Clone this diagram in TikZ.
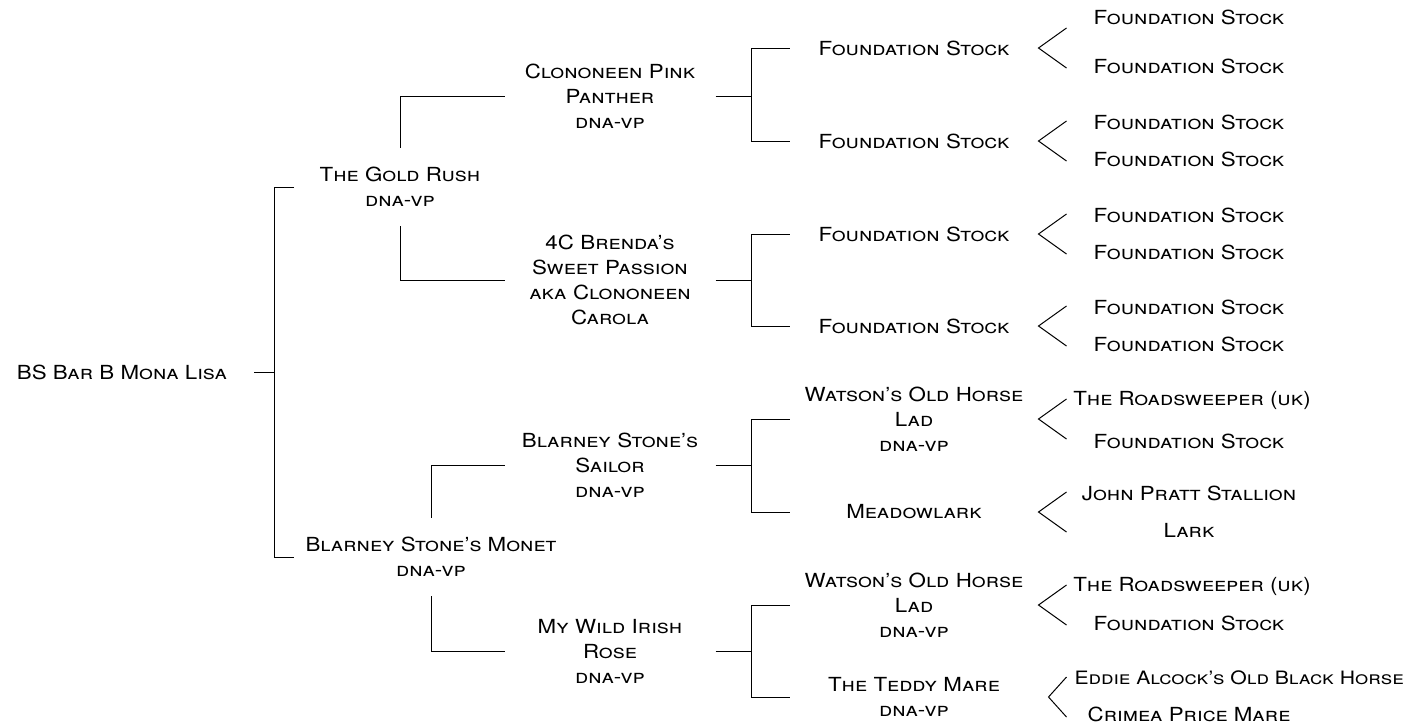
\documentclass[tikz,border=0pt]{standalone}
\usepackage{fontspec}
\setmainfont{TeX Gyre Heros}[FakeStretch=1.15]
\usetikzlibrary{positioning}

\newcommand{\chevron}[2][0pt]{%
  \draw ([shift={(14pt,10pt)}]#2.east) -- ([xshift=#1]#2.east) -- ([shift={(14pt,-10pt)}]#2.east);}

\begin{document}
\begin{tikzpicture}[x=0.5pt, y=-0.5pt, line width=0.5pt,
    every node/.style={font=\fontsize{9.7}{12.5}\selectfont\scshape, align=center},
    gen one/.style={inner ysep=9.5pt},
    gen two/.style={text width=100pt, inner xsep=2.5pt},
    gen three/.style={text width=120pt, inner xsep=2pt},
    gen four/.style={inner sep=1pt}]
  \useasboundingbox (0,0) rectangle (1412,725);

  % horse and parents
  \node (root) at (122,372) {BS Bar B Mona Lisa};
  \node[gen one] (gr) at (400,187) {The Gold Rush\\dna-vp};
  \node[gen one] (bsm) at (431,557) {Blarney Stone's Monet\\dna-vp};

  % grandparents
  \node[gen two] (cpp) at (610,96) {Clononeen Pink\\Panther\\dna-vp};
  \node[gen two] (cb) at (610,280) {4C Brenda's\\Sweet Passion\\aka Clononeen\\Carola};
  \node[gen two] (bss) at (610,465) {Blarney Stone's\\Sailor\\dna-vp};
  \node[gen two] (mwr) at (610,651) {My Wild Irish\\Rose\\dna-vp};

  % great grandparents
  \node[gen three] (fs1) at (914,48) {Foundation Stock};
  \node[gen three] (fs2) at (914,141) {Foundation Stock};
  \node[gen three] (fs3) at (914,234) {Foundation Stock};
  \node[gen three] (fs4) at (914,326) {Foundation Stock};
  \node[gen three] (wol1) at (914,419) {Watson's Old Horse\\Lad\\dna-vp};
  \node[gen three] (mea) at (914,512) {Meadowlark};
  \node[gen three] (wol2) at (914,605) {Watson's Old Horse\\Lad\\dna-vp};
  \node[gen three] (tm) at (914,697) {The Teddy Mare\\dna-vp};

  % last generation
  \node[gen four] (a1) at (1189,17) {Foundation Stock};
  \node[gen four] (a2) at (1189,66) {Foundation Stock};
  \node[gen four] (b1) at (1189,122) {Foundation Stock};
  \node[gen four] (b2) at (1189,159) {Foundation Stock};
  \node[gen four] (c1) at (1189,215) {Foundation Stock};
  \node[gen four] (c2) at (1189,252) {Foundation Stock};
  \node[gen four] (d1) at (1189,307) {Foundation Stock};
  \node[gen four] (d2) at (1189,344) {Foundation Stock};
  \node[gen four] (e1) at (1192,400) {The Roadsweeper (uk)};
  \node[gen four] (e2) at (1189,441) {Foundation Stock};
  \node[gen four] (f1) at (1189,493) {John Pratt Stallion};
  \node[gen four] (f2) at (1189,530) {Lark};
  \node[gen four] (g1) at (1192,586) {The Roadsweeper (uk)};
  \node[gen four] (g2) at (1189,623) {Foundation Stock};
  \node[gen four, anchor=west, font=\fontsize{9.2}{12.5}\selectfont\scshape] (h1) at (1072,678) {Eddie Alcock's Old Black Horse};
  \node[gen four] (h2) at (1189,714) {Crimea Price Mare};

  % brackets
  \draw ([xshift=10pt]root.east) -- ++(10pt,0) coordinate (r0);
  \draw (r0 |- gr) ++(10pt,0) -- (r0 |- gr) -- (r0 |- bsm) -- ++(10pt,0);
  \draw (gr.north) |- (cpp.west);
  \draw (gr.south) |- (cb.west);
  \draw (bsm.north) |- (bss.west);
  \draw (bsm.south) |- (mwr.west);

  \draw (cpp.east) -- ++(18pt,0) coordinate (j1);
  \draw (fs1.west) -| (j1) |- (fs2.west);
  \draw (cb.east) -- ++(18pt,0) coordinate (j2);
  \draw (fs3.west) -| (j2) |- (fs4.west);
  \draw (bss.east) -- ++(18pt,0) coordinate (j3);
  \draw (wol1.west) -| (j3) |- (mea.west);
  \draw (mwr.east) -- ++(18pt,0) coordinate (j4);
  \draw (wol2.west) -| (j4) |- (tm.west);

  \chevron{fs1}
  \chevron{fs2}
  \chevron{fs3}
  \chevron{fs4}
  \chevron{wol1}
  \chevron{mea}
  \chevron{wol2}
  \chevron[5pt]{tm}
\end{tikzpicture}
\end{document}
